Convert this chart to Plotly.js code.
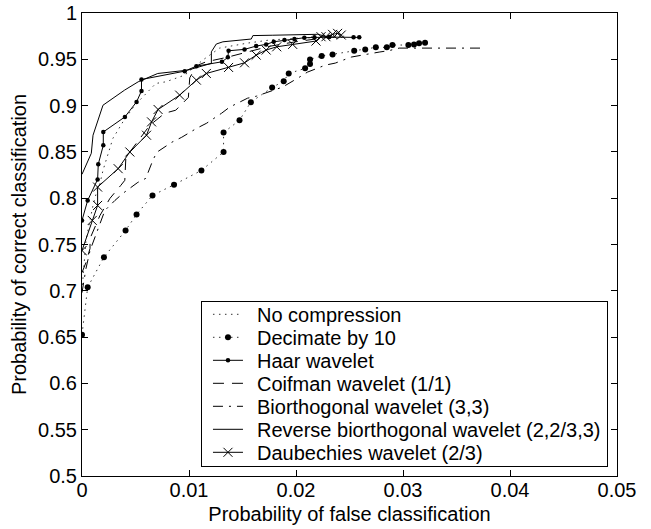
<!DOCTYPE html>
<html>
<head>
<meta charset="utf-8">
<script src="https://cdn.plot.ly/plotly-3.0.1.min.js"></script>
<style>html,body{margin:0;padding:0;background:#fff;}#chart{width:651px;height:529px;}</style>
</head>
<body>
<div id="chart"></div>
<script>
// ---- data ----
const seriesNames = ["No compression", "Decimate by 10", "Haar wavelet", "Coifman wavelet (1/1)",
  "Biorthogonal wavelet (3,3)", "Reverse biorthogonal wavelet (2,2/3,3)", "Daubechies wavelet (2/3)"];

const noCompX = [0, 0.00019, 0.00037, 0.00065, 0.00103, 0.0014, 0.00168, 0.00196, 0.00242, 0.00289, 0.00336, 0.00382, 0.00494, 0.00587, 0.00634, 0.0069, 0.00783, 0.00876, 0.0096, 0.01128, 0.01286, 0.01547, 0.01752, 0.02032, 0.02311];
const noCompY = [0.700, 0.7305, 0.7543, 0.7706, 0.7922, 0.8084, 0.816, 0.830, 0.8463, 0.8647, 0.8734, 0.8824, 0.9004, 0.9113, 0.9167, 0.9239, 0.9257, 0.9293, 0.9329, 0.9491, 0.9621, 0.9675, 0.9708, 0.9729, 0.974];

const decX = [0, 0.00053, 0.00205, 0.00407, 0.0051, 0.00659, 0.0086, 0.01116, 0.01323, 0.01323, 0.01472, 0.01578, 0.01777, 0.01885, 0.01932, 0.02085, 0.02131, 0.02131, 0.0224, 0.02342, 0.02544, 0.02647, 0.02746, 0.02849, 0.02901, 0.0305, 0.03103, 0.0315, 0.03206];
const decY = [0.6526, 0.7038, 0.7363, 0.7652, 0.7825, 0.803, 0.8146, 0.830, 0.8499, 0.8709, 0.8842, 0.9037, 0.9196, 0.9264, 0.9347, 0.9402, 0.9448, 0.9499, 0.9535, 0.9553, 0.9592, 0.9607, 0.9629, 0.9629, 0.9654, 0.9654, 0.9661, 0.9672, 0.9679];

const haarX = [0, 0.00053, 0.00146, 0.00152, 0.00199, 0.00199, 0.00401, 0.0051, 0.00556, 0.00556, 0.0096, 0.01069, 0.01308, 0.01363, 0.0137, 0.01519, 0.01628, 0.01721, 0.01792, 0.01892, 0.01985, 0.02078, 0.02172, 0.02311, 0.02538, 0.02591];
const haarY = [0.776, 0.7976, 0.8203, 0.8366, 0.8571, 0.8715, 0.8878, 0.904, 0.9159, 0.9282, 0.9372, 0.9426, 0.9473, 0.9521, 0.9592, 0.9607, 0.9643, 0.9661, 0.9689, 0.9708, 0.9719, 0.9733, 0.9737, 0.974, 0.9737, 0.9737];

const coifX = [0, 0.00037, 0.00075, 0.00075, 0.00168, 0.00261, 0.00363, 0.004, 0.0041, 0.00457, 0.00634, 0.00774, 0.00876, 0.00994, 0.01007, 0.0107, 0.0116, 0.0135, 0.0155, 0.0175, 0.02, 0.0225, 0.0245];
const coifY = [0.7197, 0.7305, 0.7457, 0.7565, 0.7814, 0.7998, 0.8139, 0.8193, 0.8442, 0.8517, 0.8788, 0.8918, 0.895, 0.9088, 0.9300, 0.9430, 0.9473, 0.952, 0.958, 0.964, 0.969, 0.973, 0.975];

const biorX = [0, 0.00037, 0.00075, 0.00149, 0.00214, 0.00308, 0.00382, 0.00522, 0.00596, 0.00662, 0.00699, 0.00839, 0.00932, 0.01072, 0.01165, 0.01305, 0.01379, 0.01547, 0.01631, 0.01817, 0.01873, 0.02032, 0.02106, 0.02274, 0.02367, 0.02516, 0.0261, 0.02777, 0.0287, 0.02964, 0.0372];
const biorY = [0.698, 0.724, 0.7435, 0.7673, 0.7868, 0.7976, 0.8052, 0.8171, 0.8214, 0.8409, 0.8496, 0.8604, 0.8658, 0.8755, 0.881, 0.8918, 0.8983, 0.908, 0.9102, 0.9177, 0.9199, 0.9307, 0.9361, 0.9437, 0.9459, 0.9524, 0.9545, 0.9578, 0.9594, 0.9621, 0.9621];

const revX = [0, 0.00087, 0.00103, 0.00196, 0.00398, 0.00525, 0.00708, 0.00988, 0.01209, 0.01209, 0.01255, 0.01317, 0.01582, 0.01597, 0.01783, 0.02032, 0.022, 0.02274];
const revY = [0.8258, 0.8485, 0.868, 0.9004, 0.9167, 0.9257, 0.9347, 0.9383, 0.9456, 0.9581, 0.9665, 0.9689, 0.9719, 0.9756, 0.976, 0.9762, 0.977, 0.9751];

const daubX = [0, 0.00096, 0.00146, 0.00146, 0.00338, 0.00447, 0.00603, 0.0065, 0.00711, 0.00913, 0.01069, 0.01162, 0.0137, 0.01519, 0.01628, 0.01721, 0.0182, 0.01969, 0.02187, 0.02234, 0.0228, 0.02342, 0.02389, 0.02423];
const daubY = [0.7435, 0.776, 0.7922, 0.812, 0.8319, 0.8499, 0.868, 0.8824, 0.8958, 0.9113, 0.9275, 0.9347, 0.9412, 0.9462, 0.9545, 0.960, 0.9635, 0.9661, 0.9697, 0.9744, 0.9744, 0.9769, 0.978, 0.9762];

const xTicks = [0, 0.01, 0.02, 0.03, 0.04, 0.05];
const xTickText = ["0", "0.01", "0.02", "0.03", "0.04", "0.05"];
const yTicks = [0.5, 0.55, 0.6, 0.65, 0.7, 0.75, 0.8, 0.85, 0.9, 0.95, 1];
const yTickText = ["0.5", "0.55", "0.6", "0.65", "0.7", "0.75", "0.8", "0.85", "0.9", "0.95", "1"];

// ---- traces ----
const K = '#000';
const traces = [
  {x: noCompX, y: noCompY, name: seriesNames[0], mode: 'lines', line: {color: '#333', width: 1, dash: '1.5px,4.5px'}},
  {x: decX, y: decY, name: seriesNames[1], mode: 'lines+markers', line: {color: '#333', width: 1, dash: '1.5px,4.5px'}, marker: {color: K, size: 6, symbol: 'circle'}},
  {x: haarX, y: haarY, name: seriesNames[2], mode: 'lines+markers', line: {color: K, width: 1}, marker: {color: K, size: 4.5, symbol: 'circle'}},
  {x: coifX, y: coifY, name: seriesNames[3], mode: 'lines', line: {color: K, width: 1, dash: '11px,8px'}},
  {x: biorX, y: biorY, name: seriesNames[4], mode: 'lines', line: {color: K, width: 1, dash: '10px,6px,2px,6px'}},
  {x: revX, y: revY, name: seriesNames[5], mode: 'lines', line: {color: K, width: 1}},
  {x: daubX, y: daubY, name: seriesNames[6], mode: 'lines+markers', line: {color: K, width: 1}, marker: {color: K, size: 9, symbol: 'x-thin-open', line: {color: K, width: 1}}}
];

const fontFam = 'Liberation Sans, Arial, sans-serif';
const FS = 20;
const layout = {
  width: 651, height: 529,
  margin: {l: 82, r: 34, t: 13, b: 53},
  paper_bgcolor: '#fff', plot_bgcolor: '#fff',
  font: {family: fontFam, size: FS, color: '#000'},
  showlegend: true,
  legend: {x: 0.2224, y: 0.3786, xanchor: 'left', yanchor: 'top', bgcolor: '#fff', bordercolor: '#000', borderwidth: 1,
           font: {family: fontFam, size: FS, color: '#000'}},
  xaxis: {range: [0, 0.05], tickvals: xTicks, ticktext: xTickText, ticks: 'inside', ticklen: 6, tickcolor: '#000',
          showline: true, linecolor: '#000', linewidth: 1, mirror: 'allticks', showgrid: false, zeroline: false,
          ticklabelstandoff: -4,
          tickfont: {family: fontFam, size: FS}, title: {text: 'Probability of false classification', font: {family: fontFam, size: FS}, standoff: 6}},
  yaxis: {range: [0.5, 1], tickvals: yTicks, ticktext: yTickText, ticks: 'inside', ticklen: 6, tickcolor: '#000',
          showline: true, linecolor: '#000', linewidth: 1, mirror: 'allticks', showgrid: false, zeroline: false,
          tickfont: {family: fontFam, size: FS}, title: {text: 'Probability of correct classification', font: {family: fontFam, size: FS}, standoff: 6}}
};

Plotly.newPlot('chart', traces, layout, {staticPlot: true, displayModeBar: false}).then(function (gd) {
  // compact the legend rows to the reference's tighter spacing
  const items = gd.querySelectorAll('.legend .traces');
  if (!items.length) return;
  const rowH = 23, topPad = 13.6, shiftX = 6, textX = 49;
  let maxW = 0;
  items.forEach(function (it, i) {
    it.setAttribute('transform', 'translate(' + (1 + shiftX) + ',' + (topPad + i * rowH) + ')');
    const txt = it.querySelector('.legendtext');
    if (txt) {
      txt.setAttribute('x', textX);
      txt.querySelectorAll('tspan').forEach(function (t) { if (t.hasAttribute('x')) t.setAttribute('x', textX); });
      maxW = Math.max(maxW, txt.getComputedTextLength());
    }
  });
  const sb = gd.querySelector('.legend .scrollbox');
  if (sb) sb.removeAttribute('clip-path');
  const bg = gd.querySelector('.legend .bg');
  if (bg) {
    bg.setAttribute('height', 2 * topPad + (items.length - 1) * rowH);
    bg.setAttribute('width', 1 + shiftX + textX + maxW + 6);
  }
});
</script>
</body>
</html>
